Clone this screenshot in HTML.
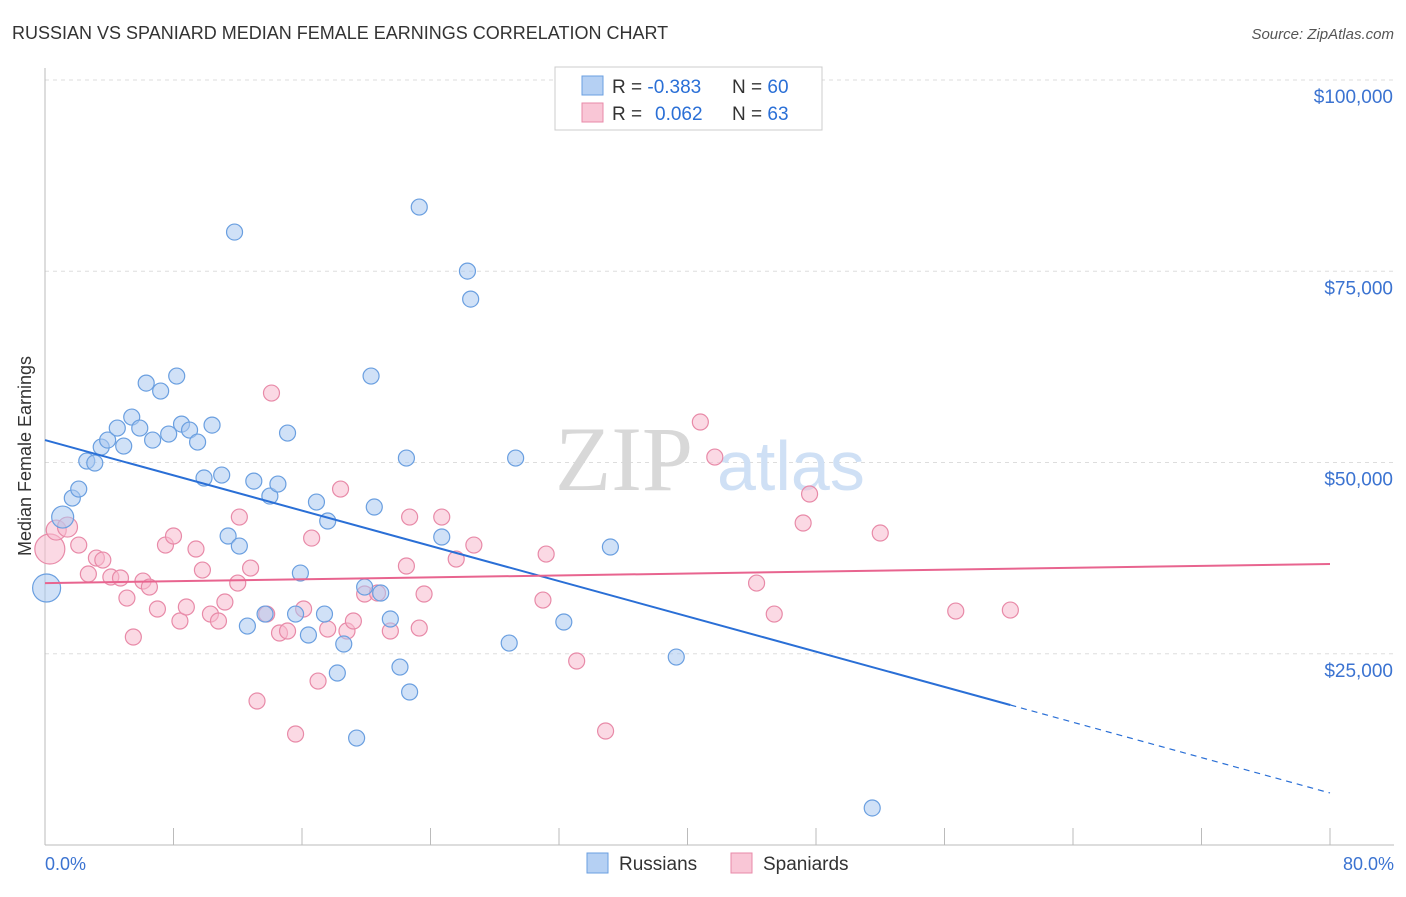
<!DOCTYPE html>
<html><head><meta charset="utf-8"><style>
body{margin:0;background:#fff;font-family:"Liberation Sans",sans-serif}
svg text{font-family:"Liberation Sans",sans-serif}
</style></head><body>
<svg id="c" width="1406" height="892">
<text x="12" y="39" font-size="18" fill="#333">RUSSIAN VS SPANIARD MEDIAN FEMALE EARNINGS CORRELATION CHART</text>
<text x="1394" y="39" font-size="15" fill="#555" font-style="italic" text-anchor="end">Source: ZipAtlas.com</text>
<g id="grid"></g>
<text x="555" y="490" font-size="92" fill="#d8d8d8" font-family="Liberation Serif" style="font-family:'Liberation Serif',serif">ZIP</text>
<text x="717" y="490" font-size="70" fill="#cfe0f5">atlas</text>
<g id="pts"></g>
<g id="lines"></g>
<text x="31" y="456" font-size="18" fill="#333" text-anchor="middle" transform="rotate(-90 31 456)">Median Female Earnings</text>
<text x="45" y="870" font-size="18" fill="#3b73d1">0.0%</text>
<text x="1394" y="870" font-size="18" fill="#3b73d1" text-anchor="end">80.0%</text>
<g>
<rect x="555" y="67" width="267" height="63" fill="#fff" stroke="#ccc"/>
<rect x="582" y="76" width="21" height="19" fill="#b5d0f3" stroke="#6a9fe0"/>
<rect x="582" y="103" width="21" height="19" fill="#f9c6d6" stroke="#e88aa8"/>
<text x="612" y="93" font-size="19" fill="#333">R = <tspan fill="#2a6fd6">-0.383</tspan><tspan x="732">N = </tspan><tspan fill="#2a6fd6">60</tspan></text>
<text x="612" y="120" font-size="19" fill="#333">R = <tspan x="655" fill="#2a6fd6">0.062</tspan><tspan x="732">N = </tspan><tspan fill="#2a6fd6">63</tspan></text>
</g>
<g>
<rect x="587" y="853" width="21" height="20" fill="#b5d0f3" stroke="#6a9fe0"/>
<text x="619" y="870" font-size="19" fill="#333">Russians</text>
<rect x="731" y="853" width="21" height="20" fill="#f9c6d6" stroke="#e88aa8"/>
<text x="763" y="870" font-size="19" fill="#333">Spaniards</text>
</g>
</svg>
<script>
const yTicks=[25000,50000,75000,100000];
const yTickLabels=["$25,000","$50,000","$75,000","$100,000"];
const xTicks=[0,8,16,24,32,40,48,56,64,72,80];
const blueX=[0.1,1.1,1.7,2.1,2.6,3.1,3.5,3.9,4.5,4.9,5.4,5.9,6.3,6.7,7.2,7.7,8.2,8.5,9.0,9.5,9.9,10.4,11.0,11.4,11.8,12.1,12.6,13.0,13.7,14.0,14.5,15.1,15.6,15.9,16.4,16.9,17.4,17.6,18.6,18.2,19.4,19.9,20.3,20.5,20.9,21.5,22.1,22.5,22.7,23.3,24.7,26.3,26.5,28.9,29.3,32.3,35.2,39.3,51.5];
const blueY=[33590,42870,45350,46530,50190,49930,52020,52930,54500,52150,55940,54500,60380,52930,59340,53720,61300,55020,54240,52670,47970,54890,48360,40390,80120,39080,28620,47570,30190,45610,47180,53850,30190,35550,27450,44830,30190,42350,26270,22480,13980,33720,61300,44180,32940,29540,23260,50580,20000,83390,40260,75020,71360,26400,50580,29150,38950,24570,4840];
const pinkX=[0.3,0.7,1.4,2.1,2.7,3.2,3.6,4.1,4.7,5.1,5.5,6.1,6.5,7.0,7.5,8.0,8.4,8.8,9.4,9.8,10.3,10.8,11.2,12.0,12.1,12.8,13.2,13.8,14.1,14.6,15.1,15.6,16.1,16.6,17.0,17.6,18.4,18.8,19.2,19.9,20.7,21.5,22.5,22.7,23.6,23.3,24.7,25.6,26.7,31.0,31.2,33.1,34.9,40.8,41.7,44.3,45.4,47.2,47.6,52.0,56.7,60.1];
const pinkY=[38690,41170,41560,39210,35420,37510,37250,35030,34900,32280,27190,34500,33720,30850,39210,40390,29280,31110,38690,35940,30190,29280,31760,34240,42870,36200,18820,30190,59080,27710,27970,14510,30850,40120,21430,28230,46530,27970,29280,32810,32940,27970,36470,42870,32810,28360,42870,37380,39210,32020,38030,24050,14900,55290,50710,34240,30190,42090,45880,40780,30580,30710];
const blueTrend=[52930,18300,6800];
const pinkTrend=[34240,36730];
const X0=45,X1=1330,YB=845,YT=80;
const xs=v=>X0+v/80*(X1-X0);
const ys=v=>YB-v/100000*(YB-YT);
const NS="http://www.w3.org/2000/svg";
function mk(t,a,p){const e=document.createElementNS(NS,t);for(const k in a)e.setAttribute(k,a[k]);p.appendChild(e);return e;}
const grid=document.getElementById('grid');
yTicks.forEach((t,i)=>{
  const l=mk('line',{x1:45,x2:1394,y1:ys(t),y2:ys(t),stroke:'#ddd','stroke-dasharray':'4,4'},grid);
  
  
  const tx=mk('text',{x:1393,y:ys(t)+23,'font-size':19,fill:'#3b73d1','text-anchor':'end'},grid);
  tx.textContent=yTickLabels[i];
  
  
});
const ax=mk('line',{x1:45,x2:45,y1:68,y2:845,stroke:'#bbb'},grid);


const bx=mk('line',{x1:45,x2:1394,y1:845,y2:845,stroke:'#bbb'},grid);


xTicks.forEach(t=>{
  const l=mk('line',{x1:xs(t),x2:xs(t),y1:828,y2:845,stroke:'#bbb'},grid);
  
  
});
const pts=document.getElementById('pts');
function dot(x,y,r,fill,stroke,name){
  const c=mk('circle',{cx:xs(x),cy:ys(y),r:r,fill:fill,'fill-opacity':0.55,stroke:stroke,'stroke-width':1.2},pts);
  
  
}
pinkX.forEach((x,i)=>dot(x,pinkY[i],i==0?15:(i<3?10:8),'#f7b9cd','#e88aa8','spaniard-point'));
blueX.forEach((x,i)=>dot(x,blueY[i],i==0?14:(i==1?11:8),'#a9c8f0','#6a9fe0','russian-point'));
const lines=document.getElementById('lines');
const b1=mk('line',{x1:xs(0),y1:ys(blueTrend[0]),x2:xs(60.1),y2:ys(blueTrend[1]),stroke:'#2a6fd6','stroke-width':2},lines);


const b2=mk('line',{x1:xs(60.1),y1:ys(blueTrend[1]),x2:xs(80),y2:ys(blueTrend[2]),stroke:'#2a6fd6','stroke-width':1.2,'stroke-dasharray':'6,5'},lines);


const p1=mk('line',{x1:xs(0),y1:ys(pinkTrend[0]),x2:xs(80),y2:ys(pinkTrend[1]),stroke:'#e8648f','stroke-width':2},lines);


</script>
</body></html>
